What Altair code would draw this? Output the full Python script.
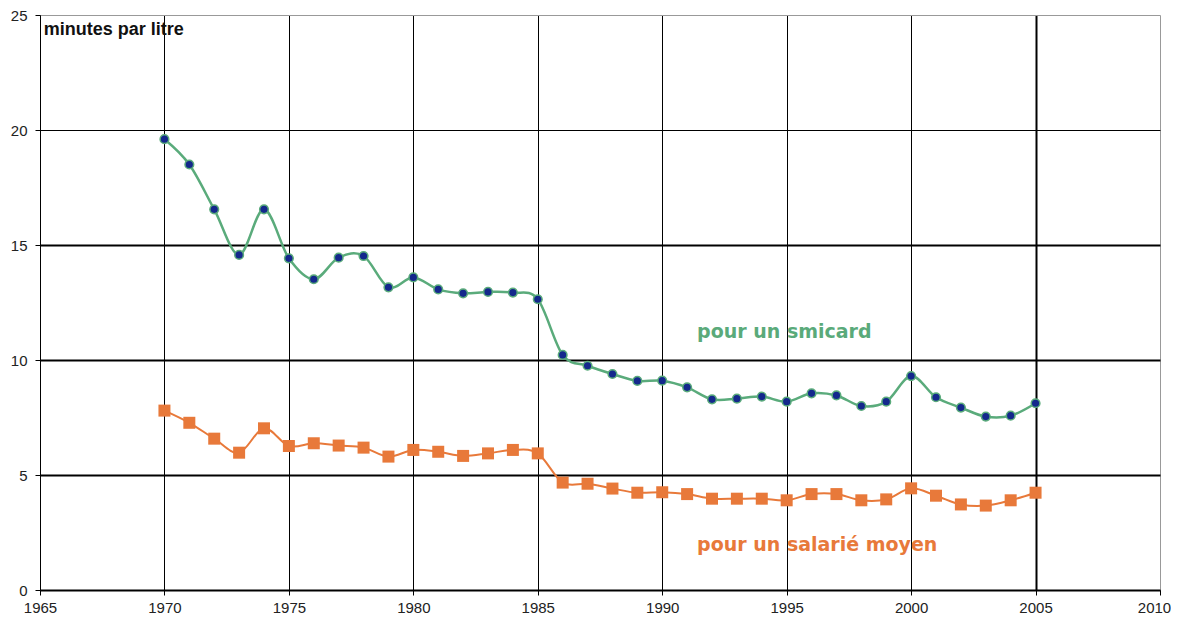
import altair as alt
import pandas as pd

years = list(range(1970, 2006))
smicard = [19.6, 18.5, 16.55, 14.57, 16.55, 14.42, 13.51, 14.45, 14.52, 13.16,
           13.59, 13.07, 12.9, 12.96, 12.93, 12.64, 10.22, 9.75, 9.39, 9.09,
           9.1, 8.81, 8.29, 8.32, 8.41, 8.19, 8.55, 8.46, 8.0, 8.19,
           9.3, 8.38, 7.93, 7.54, 7.58, 8.12]
salarie = [7.8, 7.27, 6.58, 5.97, 7.03, 6.26, 6.38, 6.28, 6.19, 5.8,
           6.09, 6.01, 5.83, 5.94, 6.09, 5.94, 4.67, 4.62, 4.41, 4.23,
           4.25, 4.17, 3.97, 3.97, 3.97, 3.9, 4.17, 4.17, 3.9, 3.94,
           4.42, 4.1, 3.72, 3.67, 3.9, 4.23]

x_ticks = [1965, 1970, 1975, 1980, 1985, 1990, 1995, 2000, 2005, 2010]
y_ticks = [0, 5, 10, 15, 20, 25]

label_texts = ["pour un smicard", "pour un salarié moyen"]
label_x = [1991.4, 1991.4]
label_y = [11.2, 1.96]
label_colors = ["#5aaa7a", "#e8793a"]

unit_text = ["minutes par litre"]
unit_x = [1965.15]
unit_y = [24.35]

GREEN = "#5aab7b"
ORANGE = "#e8793a"
MARK_BLUE = "#14288c"

df = pd.DataFrame({"year": years, "smicard": smicard, "salarie": salarie})

xscale = alt.Scale(domain=[1965, 2010], nice=False, zero=False)
yscale = alt.Scale(domain=[0, 25], nice=False)

xaxis = alt.Axis(
    values=x_ticks, format="d", title=None,
    grid=True,
    gridColor={"condition": {"test": "datum.value == 2010", "value": "#999999"}, "value": "black"},
    gridWidth={"condition": {"test": "datum.value == 2005", "value": 2}, "value": 1},
    domainColor="black", tickColor="black", tickSize=5,
    labelFont="Liberation Sans", labelFontSize=15, labelColor="#222222",
    labelPadding=5, labelFlush=False,
    labelOffset={"condition": {"test": "datum.value == 2010", "value": -6}, "value": 0},
)
yaxis = alt.Axis(
    values=y_ticks, title=None,
    grid=True,
    gridColor={"condition": {"test": "datum.value == 25", "value": "#999999"}, "value": "black"},
    gridWidth={"condition": {"test": "datum.value == 20 || datum.value == 25", "value": 1}, "value": 2},
    domainColor="black", tickColor="black", tickSize=5,
    labelFont="Liberation Sans", labelFontSize=15, labelColor="#222222",
    labelPadding=8,
)

X = alt.X("year:Q", scale=xscale, axis=xaxis)

line_s = alt.Chart(df).mark_line(color=GREEN, strokeWidth=2.5, interpolate="cardinal").encode(
    x=X, y=alt.Y("smicard:Q", scale=yscale, axis=yaxis))
pts_s = alt.Chart(df).mark_point(shape="circle", filled=True, size=75, color=MARK_BLUE,
                                 stroke=GREEN, strokeWidth=1.5, opacity=1).encode(
    x=X, y=alt.Y("smicard:Q", scale=yscale, axis=yaxis))

line_m = alt.Chart(df).mark_line(color=ORANGE, strokeWidth=2, interpolate="cardinal").encode(
    x=X, y=alt.Y("salarie:Q", scale=yscale, axis=yaxis))
pts_m = alt.Chart(df).mark_point(shape="square", filled=True, size=144, color=ORANGE, opacity=1).encode(
    x=X, y=alt.Y("salarie:Q", scale=yscale, axis=yaxis))

lab_df = pd.DataFrame({"t": label_texts, "x": label_x, "y": label_y, "c": label_colors})
labels = alt.Chart(lab_df).mark_text(align="left", baseline="middle", font="DejaVu Sans",
                                     fontWeight="bold", fontSize=19).encode(
    x=alt.X("x:Q", scale=xscale, axis=xaxis),
    y=alt.Y("y:Q", scale=yscale, axis=yaxis),
    text="t:N",
    color=alt.Color("c:N", scale=None),
)

unit_df = pd.DataFrame({"t": unit_text, "x": unit_x, "y": unit_y})
unit = alt.Chart(unit_df).mark_text(align="left", baseline="middle", font="Liberation Sans",
                                    fontWeight="bold", fontSize=18, color="#111111").encode(
    x=alt.X("x:Q", scale=xscale, axis=xaxis),
    y=alt.Y("y:Q", scale=yscale, axis=yaxis),
    text="t:N",
)

chart = alt.layer(line_s, line_m, pts_s, pts_m, labels, unit).properties(
    width=1120, height=575,
    autosize=alt.AutoSizeParams(type="none"),
    padding={"left": 32, "top": 7, "right": 11, "bottom": 25},
    background="white",
).configure_view(strokeWidth=0)

chart.save("out.html", embed_options={"renderer": "svg", "actions": False})
